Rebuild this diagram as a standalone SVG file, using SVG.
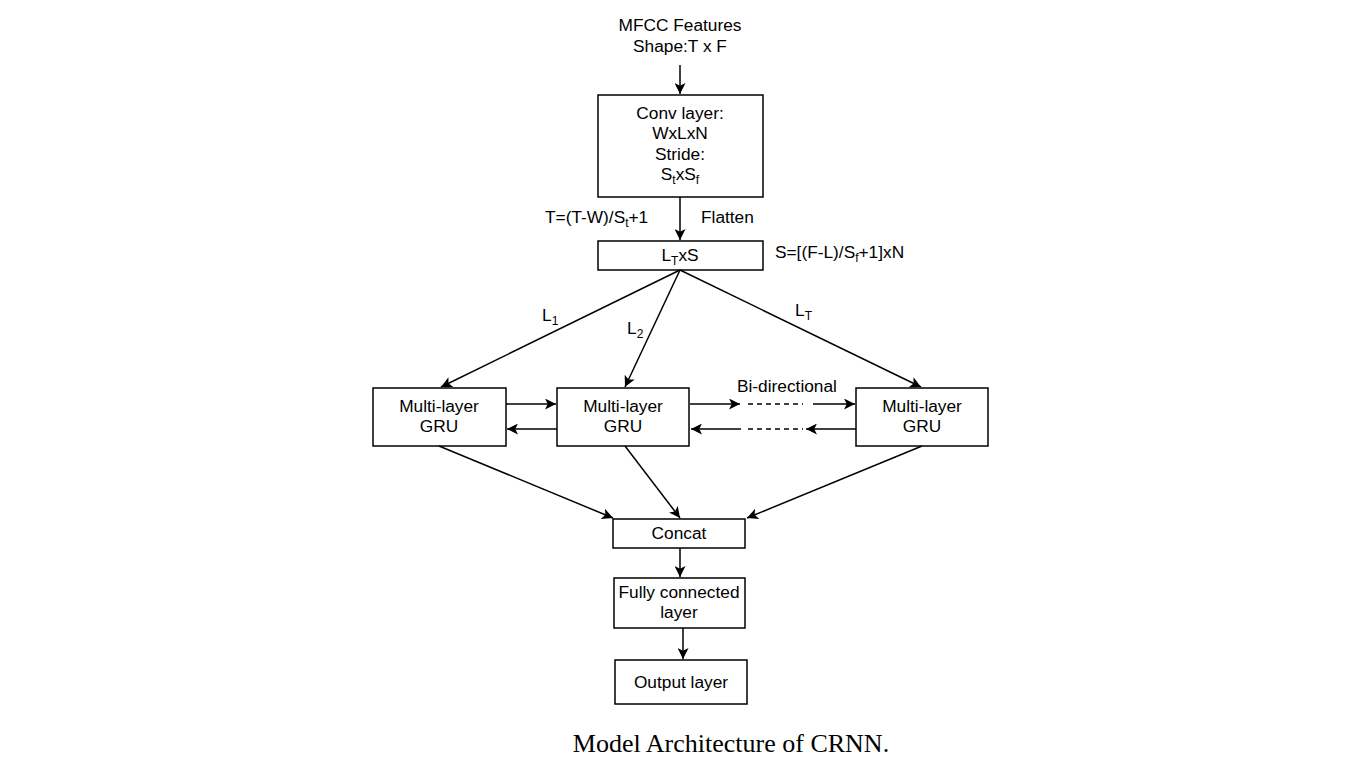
<svg xmlns="http://www.w3.org/2000/svg" width="1352" height="759" viewBox="0 0 1352 759">
<style>
.box{fill:#fff;stroke:#000;stroke-width:1.5}
.t{font-family:"Liberation Sans",Arial,sans-serif;font-size:17.3px;fill:#000}
.c{text-anchor:middle}
.ln{stroke:#000;stroke-width:1.5;fill:none}
.dash{stroke:#000;stroke-width:1.5;fill:none;stroke-dasharray:5,4}
.sub{font-size:12px}
.cap{font-family:"Liberation Serif","Times New Roman",serif;font-size:26px;fill:#000;text-anchor:middle}
</style>
<defs>
<marker id="ah" viewBox="0 0 10 10" refX="10" refY="5" markerWidth="12" markerHeight="11" markerUnits="userSpaceOnUse" orient="auto">
<path d="M0,0 L10,5 L0,10 L2.5,5 z" fill="#000"/>
</marker>
</defs>
<rect width="1352" height="759" fill="#fff"/>

<g id="input">
<text class="t c" x="680" y="31">MFCC Features</text>
<text class="t c" x="680" y="52">Shape:T x F</text>
</g>

<g id="conv">
<rect class="box" x="598" y="95" width="165" height="102"/>
<text class="t c" x="680" y="119">Conv layer:</text>
<text class="t c" x="680" y="139">WxLxN</text>
<text class="t c" x="680" y="160">Stride:</text>
<text class="t c" x="680" y="180">S<tspan class="sub" dy="4">t</tspan><tspan dy="-4">xS</tspan><tspan class="sub" dy="4">f</tspan></text>
</g>

<g id="flatten">
<rect class="box" x="598" y="241" width="165" height="29"/>
<text class="t c" x="680" y="261">L<tspan class="sub" dy="4">T</tspan><tspan dy="-4">xS</tspan></text>
</g>

<g id="gru1">
<rect class="box" x="373" y="388" width="133" height="58"/>
<text class="t c" x="439" y="412">Multi-layer</text>
<text class="t c" x="439" y="432">GRU</text>
</g>
<g id="gru2">
<rect class="box" x="557" y="388" width="132" height="58"/>
<text class="t c" x="623" y="412">Multi-layer</text>
<text class="t c" x="623" y="432">GRU</text>
</g>
<g id="gru3">
<rect class="box" x="856" y="388" width="132" height="58"/>
<text class="t c" x="922" y="412">Multi-layer</text>
<text class="t c" x="922" y="432">GRU</text>
</g>

<g id="concat">
<rect class="box" x="613" y="519" width="132" height="29"/>
<text class="t c" x="679" y="539">Concat</text>
</g>

<g id="fc">
<rect class="box" x="614" y="578" width="131" height="50"/>
<text class="t c" x="679" y="598">Fully connected</text>
<text class="t c" x="679" y="618">layer</text>
</g>

<g id="output">
<rect class="box" x="615" y="660" width="132" height="44"/>
<text class="t c" x="681" y="688">Output layer</text>
</g>

<g id="labels">
<text class="t" x="545" y="223">T=(T-W)/S<tspan class="sub" dy="4">t</tspan><tspan dy="-4">+1</tspan></text>
<text class="t" x="701" y="223">Flatten</text>
<text class="t" x="775" y="258">S=[(F-L)/S<tspan class="sub" dy="4">f</tspan><tspan dy="-4">+1]xN</tspan></text>
<text class="t" x="542" y="321">L<tspan class="sub" dy="4">1</tspan></text>
<text class="t" x="627" y="334">L<tspan class="sub" dy="4">2</tspan></text>
<text class="t" x="795" y="316">L<tspan class="sub" dy="4">T</tspan></text>
<text class="t" x="737" y="392">Bi-directional</text>
</g>

<g id="connectors">
<line class="ln" x1="680" y1="65" x2="680" y2="94" marker-end="url(#ah)"/>
<line class="ln" x1="680" y1="197" x2="680" y2="240" marker-end="url(#ah)"/>
<line class="ln" x1="680" y1="270" x2="441" y2="387" marker-end="url(#ah)"/>
<line class="ln" x1="680" y1="270" x2="625" y2="387" marker-end="url(#ah)"/>
<line class="ln" x1="680" y1="270" x2="921" y2="387" marker-end="url(#ah)"/>
<line class="ln" x1="506" y1="404" x2="556" y2="404" marker-end="url(#ah)"/>
<line class="ln" x1="557" y1="429" x2="507" y2="429" marker-end="url(#ah)"/>
<line class="ln" x1="690" y1="404" x2="740" y2="404" marker-end="url(#ah)"/>
<line class="dash" x1="748" y1="404" x2="803" y2="404"/>
<line class="ln" x1="813" y1="404" x2="855" y2="404" marker-end="url(#ah)"/>
<line class="ln" x1="741" y1="429" x2="691" y2="429" marker-end="url(#ah)"/>
<line class="dash" x1="748" y1="429" x2="803" y2="429"/>
<line class="ln" x1="856" y1="429" x2="806" y2="429" marker-end="url(#ah)"/>
<line class="ln" x1="439" y1="446" x2="613" y2="518" marker-end="url(#ah)"/>
<line class="ln" x1="625" y1="446" x2="680" y2="518" marker-end="url(#ah)"/>
<line class="ln" x1="922" y1="446" x2="747" y2="518" marker-end="url(#ah)"/>
<line class="ln" x1="680" y1="548" x2="680" y2="577" marker-end="url(#ah)"/>
<line class="ln" x1="683" y1="628" x2="683" y2="659" marker-end="url(#ah)"/>
</g>

<text class="cap" x="731" y="752">Model Architecture of CRNN.</text>
</svg>
